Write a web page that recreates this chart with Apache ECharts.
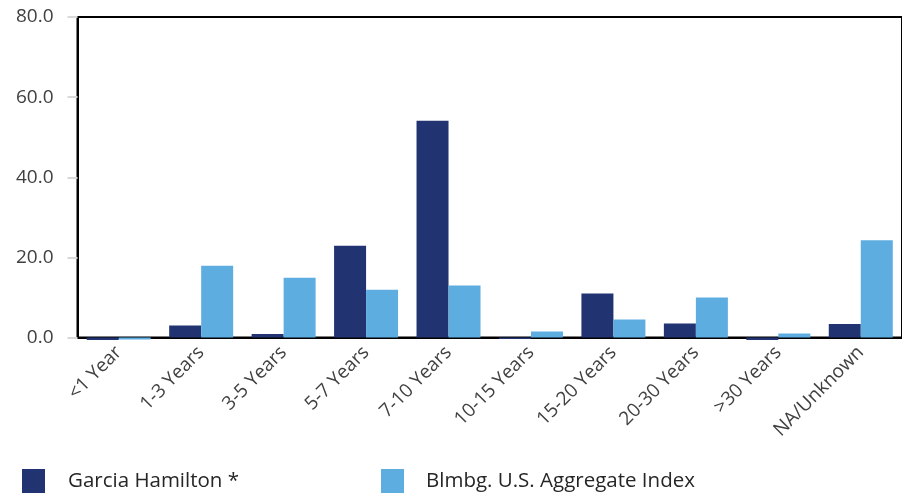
<!DOCTYPE html>
<html>
<head>
<meta charset="utf-8">
<script src="https://cdn.jsdelivr.net/npm/echarts@6/dist/echarts.min.js"></script>
<style>
html,body{margin:0;padding:0;background:#fff;}
#c{width:902px;height:493px;}
</style>
</head>
<body>
<div id="c"></div>
<script>
const categories = ['<1 Year','1-3 Years','3-5 Years','5-7 Years','7-10 Years','10-15 Years','15-20 Years','20-30 Years','>30 Years','NA/Unknown'];
const garciaHamilton = [-0.6, 3.0, 0.9, 22.9, 54.1, -0.4, 11.0, 3.5, -0.6, 3.4];
const aggregateIndex = [-0.5, 17.9, 14.9, 11.9, 13.0, 1.5, 4.5, 10.0, 1.0, 24.3];
const seriesNames = ['Garcia Hamilton *', 'Blmbg. U.S. Aggregate Index'];
const colors = ['#213371', '#5EADE1'];

const chart = echarts.init(document.getElementById('c'));
const font = '"Open Sans", "Noto Sans", sans-serif';
chart.setOption({
  animation: false,
  grid: {left: 77.5, top: 17, width: 829, height: 320.5, show: true, borderColor: '#000', borderWidth: 2, backgroundColor: 'transparent'},
  legend: [
    {data: [seriesNames[0]], left: 22, top: 469, padding: 0, itemWidth: 23, itemHeight: 24, icon: 'rect',
     textStyle: {fontFamily: font, fontSize: 20.5, color: '#262626', padding: [0,0,0,18]}},
    {data: [seriesNames[1]], left: 381, top: 469, padding: 0, itemWidth: 23, itemHeight: 24, icon: 'rect',
     textStyle: {fontFamily: font, fontSize: 20.5, color: '#262626', padding: [0,0,0,17]}}
  ],
  xAxis: {
    type: 'category', data: categories,
    axisLine: {onZero: true, lineStyle: {color: '#000', width: 2}},
    axisTick: {alignWithLabel: true, length: 10, lineStyle: {color: '#d9d9d9', width: 2}},
    axisLabel: {rotate: 45, fontFamily: font, fontSize: 19, color: '#404040', margin: 12, interval: 0}
  },
  yAxis: {
    type: 'value', min: 0, max: 80, interval: 20,
    axisLine: {show: true, lineStyle: {color: '#000', width: 2}},
    axisTick: {show: true, length: 10, lineStyle: {color: '#d9d9d9', width: 2}},
    splitLine: {show: false},
    axisLabel: {fontFamily: font, fontSize: 19, color: '#404040', margin: 24, formatter: v => v.toFixed(1)}
  },
  series: [
    {name: seriesNames[0], type: 'bar', data: garciaHamilton, barWidth: 32, barGap: '0%', clip: false, itemStyle: {color: colors[0]}, z: 1},
    {name: seriesNames[1], type: 'bar', data: aggregateIndex, barWidth: 32, barGap: '0%', clip: false, itemStyle: {color: colors[1]}, z: 1}
  ]
});
</script>
</body>
</html>
